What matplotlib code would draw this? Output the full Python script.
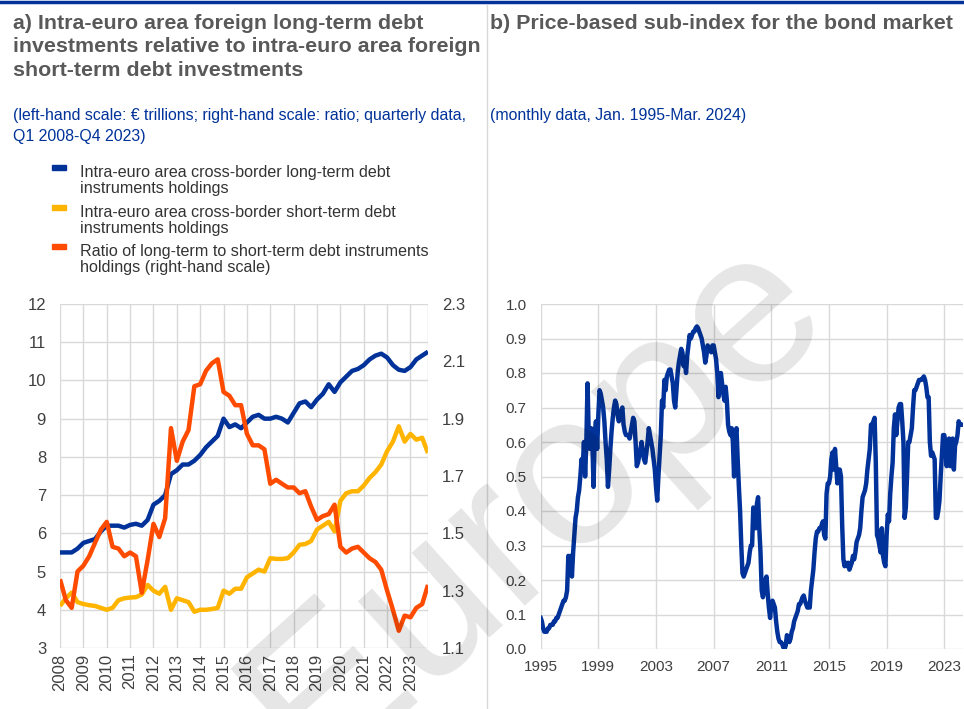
import numpy as np
import matplotlib
matplotlib.use("Agg")
import matplotlib.pyplot as plt
from matplotlib.patches import Rectangle
from matplotlib.lines import Line2D

plt.rcParams['font.family'] = ['Liberation Sans', 'DejaVu Sans']

# ---- panel a: quarterly data, Q1 2008 - Q4 2023 ----
years_a = list(range(2008, 2024))
long_term = [5.5, 5.5, 5.5, 5.6, 5.75, 5.8, 5.85, 6.05,
             6.2, 6.2, 6.2, 6.15, 6.22, 6.25, 6.2, 6.35,
             6.75, 6.85, 7.0, 7.55, 7.65, 7.8, 7.8, 7.9,
             8.05, 8.25, 8.4, 8.55, 9.0, 8.78, 8.85, 8.75,
             8.9, 9.05, 9.1, 9.0, 9.0, 9.05, 9.0, 8.9,
             9.15, 9.4, 9.45, 9.3, 9.5, 9.65, 9.9, 9.7,
             9.95, 10.1, 10.25, 10.3, 10.4, 10.55, 10.65, 10.7,
             10.6, 10.4, 10.28, 10.25, 10.35, 10.55, 10.65, 10.75]
short_term = [4.1, 4.3, 4.45, 4.2, 4.15, 4.12, 4.1, 4.05,
              4.0, 4.05, 4.25, 4.3, 4.32, 4.33, 4.4, 4.65,
              4.5, 4.42, 4.6, 4.0, 4.3, 4.25, 4.2, 3.95,
              4.0, 4.0, 4.02, 4.05, 4.5, 4.42, 4.55, 4.55,
              4.85, 4.95, 5.05, 5.0, 5.35, 5.33, 5.33, 5.35,
              5.5, 5.7, 5.72, 5.8, 6.1, 6.2, 6.3, 6.05,
              6.85, 7.05, 7.1, 7.1, 7.25, 7.45, 7.6, 7.8,
              8.15, 8.4, 8.8, 8.4, 8.6, 8.45, 8.5, 8.1]
ratio = [1.34, 1.267, 1.24, 1.367, 1.387, 1.42, 1.467, 1.513,
         1.54, 1.453, 1.447, 1.42, 1.433, 1.42, 1.293, 1.407,
         1.533, 1.487, 1.553, 1.867, 1.753, 1.82, 1.86, 2.013,
         2.02, 2.067, 2.093, 2.107, 1.993, 1.98, 1.947, 1.947,
         1.847, 1.807, 1.807, 1.793, 1.673, 1.687, 1.673, 1.66,
         1.66, 1.64, 1.647, 1.593, 1.547, 1.56, 1.567, 1.6,
         1.453, 1.433, 1.447, 1.453, 1.433, 1.413, 1.4, 1.373,
         1.3, 1.233, 1.16, 1.213, 1.207, 1.24, 1.253, 1.32]

# ---- panel b: monthly data, Jan 1995 - Mar 2024 ----
bond_index = [
    0.09, 0.08, 0.06, 0.05, 0.05, 0.05, 0.06, 0.06, 0.07, 0.07, 0.07, 0.08,  # 1995
    0.08, 0.09, 0.09, 0.1, 0.11, 0.12, 0.13, 0.14, 0.14, 0.15, 0.17, 0.27,   # 1996
    0.22, 0.27, 0.21, 0.28, 0.33, 0.38, 0.4, 0.44, 0.46, 0.5, 0.55, 0.53,    # 1997
    0.6, 0.5, 0.6, 0.77, 0.62, 0.58, 0.64, 0.6, 0.47, 0.62, 0.66, 0.58,      # 1998
    0.68, 0.75, 0.74, 0.72, 0.7, 0.66, 0.6, 0.55, 0.47, 0.52, 0.58, 0.63,    # 1999
    0.67, 0.7, 0.72, 0.71, 0.68, 0.66, 0.67, 0.69, 0.7, 0.65, 0.63, 0.62,    # 2000
    0.62, 0.62, 0.61, 0.63, 0.65, 0.67, 0.66, 0.6, 0.53, 0.54, 0.56, 0.58,   # 2001
    0.6, 0.57, 0.55, 0.54, 0.57, 0.6, 0.64, 0.62, 0.6, 0.58, 0.55, 0.52,     # 2002
    0.47, 0.43, 0.5, 0.56, 0.62, 0.72, 0.7, 0.78, 0.75, 0.79, 0.8, 0.81,     # 2003
    0.81, 0.79, 0.77, 0.72, 0.7, 0.75, 0.8, 0.83, 0.85, 0.87, 0.86, 0.82,    # 2004
    0.84, 0.8, 0.85, 0.88, 0.91, 0.9, 0.91, 0.92, 0.92, 0.93, 0.935, 0.93,   # 2005
    0.92, 0.91, 0.9, 0.88, 0.86, 0.83, 0.85, 0.88, 0.87, 0.87, 0.86, 0.88,   # 2006
    0.88, 0.86, 0.84, 0.8, 0.73, 0.76, 0.8, 0.77, 0.74, 0.72, 0.76, 0.72,    # 2007
    0.65, 0.63, 0.62, 0.64, 0.6, 0.5, 0.62, 0.64, 0.55, 0.47, 0.4, 0.3,      # 2008
    0.22, 0.21, 0.22, 0.23, 0.24, 0.25, 0.28, 0.3, 0.3, 0.41, 0.4, 0.35,     # 2009
    0.42, 0.44, 0.35, 0.28, 0.17, 0.15, 0.17, 0.2, 0.21, 0.16, 0.12, 0.09,   # 2010
    0.13, 0.14, 0.13, 0.12, 0.08, 0.05, 0.03, 0.02, 0.02, 0.015, 0.005, 0.0, # 2011
    0.01, 0.04, 0.03, 0.02, 0.03, 0.05, 0.06, 0.08, 0.09, 0.1, 0.11, 0.13,   # 2012
    0.13, 0.14, 0.15, 0.155, 0.14, 0.13, 0.12, 0.13, 0.12, 0.17, 0.2, 0.23,  # 2013
    0.28, 0.32, 0.34, 0.34, 0.35, 0.35, 0.36, 0.37, 0.33, 0.32, 0.45, 0.48,  # 2014
    0.48, 0.5, 0.55, 0.57, 0.52, 0.58, 0.53, 0.48, 0.52, 0.52, 0.5, 0.36,    # 2015
    0.26, 0.24, 0.25, 0.24, 0.25, 0.23, 0.24, 0.25, 0.27, 0.26, 0.28, 0.31,  # 2016
    0.32, 0.33, 0.35, 0.4, 0.44, 0.45, 0.46, 0.48, 0.52, 0.55, 0.58, 0.65,   # 2017
    0.65, 0.66, 0.67, 0.54, 0.33, 0.32, 0.3, 0.28, 0.35, 0.27, 0.25, 0.24,   # 2018
    0.33, 0.39, 0.37, 0.45, 0.5, 0.54, 0.64, 0.68, 0.62, 0.66, 0.7, 0.71,    # 2019
    0.71, 0.66, 0.6, 0.38, 0.41, 0.5, 0.6, 0.6, 0.62, 0.64, 0.7, 0.75,       # 2020
    0.75, 0.76, 0.77, 0.78, 0.78, 0.78, 0.785, 0.79, 0.78, 0.76, 0.73, 0.73, # 2021
    0.6, 0.56, 0.57, 0.56, 0.55, 0.38, 0.38, 0.4, 0.43, 0.5, 0.56, 0.62,     # 2022
    0.62, 0.6, 0.53, 0.58, 0.61, 0.53, 0.6, 0.61, 0.52, 0.59, 0.6, 0.62,     # 2023
    0.66, 0.65, 0.65,                                                          # 2024
]
years_b = [1995, 1999, 2003, 2007, 2011, 2015, 2019, 2023]

BLUE = '#003299'
YELLOW = '#ffb400'
ORANGE = '#ff4b00'
GRID = '#d9d9d9'
TXT = '#404040'

W, H = 964, 709
fig = plt.figure(figsize=(W / 100, H / 100), dpi=100)


def fx(px):
    return px / W


def fy(py):
    return 1 - py / H


# ---------------- panel a ----------------
xa = 2008 + np.arange(len(long_term)) / 4
ax = fig.add_axes([fx(60), fy(648), fx(428) - fx(60), fy(304) - fy(648)])
ax.plot(xa, long_term, color=BLUE, lw=3.2, zorder=3, solid_capstyle='butt')
ax.plot(xa, short_term, color=YELLOW, lw=3.2, zorder=2, solid_capstyle='butt')
ax.set_xlim(2008, 2023.75)
ax.set_ylim(3, 12)
ax.set_yticks(range(3, 13))
ax.set_xticks(years_a)
ax.set_xticklabels([str(y) for y in years_a], rotation=90, fontsize=12, color=TXT)
ax.tick_params(axis='y', labelsize=12, labelcolor=TXT, length=0, pad=10)
ax.tick_params(axis='x', length=0, pad=4)
ax.grid(True, color=GRID, lw=1)
ax.axvline(2023.75, color=GRID, lw=1)
ax.set_axisbelow(True)
for s in ax.spines.values():
    s.set_visible(False)

ax2 = ax.twinx()
ax2.plot(xa, ratio, color=ORANGE, lw=3.2, zorder=4, solid_capstyle='butt')
ax2.set_ylim(1.1, 2.3)
ax2.set_yticks([1.1, 1.3, 1.5, 1.7, 1.9, 2.1, 2.3])
ax2.set_yticklabels(['1.1', '1.3', '1.5', '1.7', '1.9', '2.1', '2.3'])
ax2.tick_params(axis='y', labelsize=12, labelcolor=TXT, length=0, pad=10)
for s in ax2.spines.values():
    s.set_visible(False)

# ---------------- panel b ----------------
xb = 1995 + np.arange(len(bond_index)) / 12
bx = fig.add_axes([fx(540.7), fy(649), fx(963) - fx(540.7), fy(304) - fy(649)])
bx.plot(xb, bond_index, color=BLUE, lw=3.2, solid_joinstyle='round')
bx.set_xlim(1995, 2024.3)
bx.set_ylim(0, 1.0)
bx.set_yticks(np.arange(0, 1.01, 0.1))
bx.set_yticklabels([f'{v:.1f}' for v in np.arange(0, 1.01, 0.1)])
bx.set_xticks(years_b)
bx.tick_params(labelsize=11, labelcolor=TXT, length=0)
bx.tick_params(axis='y', pad=10)
bx.tick_params(axis='x', pad=8)
bx.grid(True, color=GRID, lw=1)
bx.set_axisbelow(True)
for s in bx.spines.values():
    s.set_visible(False)

# ---------------- texts ----------------
fig.add_artist(Line2D([0, 1], [fy(2), fy(2)], color=BLUE, lw=2.5))
fig.add_artist(Line2D([fx(487), fx(487)], [fy(5), 0], color=GRID, lw=1))

title_a = ('a) Intra-euro area foreign long-term debt\n'
           'investments relative to intra-euro area foreign\n'
           'short-term debt investments')
fig.text(fx(13), fy(14), title_a, fontsize=15.4, fontweight='bold', color='#595959',
         va='top', ha='left', linespacing=1.3)
fig.text(fx(490), fy(14), 'b) Price-based sub-index for the bond market', fontsize=15.4,
         fontweight='bold', color='#595959', va='top', ha='left')

fig.text(fx(13), fy(108), '(left-hand scale: € trillions; right-hand scale: ratio; quarterly data,\n'
         'Q1 2008-Q4 2023)', fontsize=11.4, color=BLUE, va='top', ha='left', linespacing=1.5)
fig.text(fx(490), fy(108), '(monthly data, Jan. 1995-Mar. 2024)', fontsize=11.4, color=BLUE,
         va='top', ha='left')

legend_items = [
    (BLUE, 'Intra-euro area cross-border long-term debt\ninstruments holdings', 165),
    (YELLOW, 'Intra-euro area cross-border short-term debt\ninstruments holdings', 205),
    (ORANGE, 'Ratio of long-term to short-term debt instruments\nholdings (right-hand scale)', 244),
]
for col, lab, ytop in legend_items:
    fig.add_artist(Rectangle((fx(52), fy(ytop + 5)), fx(66) - fx(52), fy(ytop) - fy(ytop + 5),
                             color=col, transform=fig.transFigure))
    fig.text(fx(80), fy(ytop), lab, fontsize=11.6, color='#333333', va='top', ha='left',
             linespacing=1.12)

fig.text(fx(535), fy(505), 'Europe', fontsize=156, color='black', alpha=0.1, rotation=42,
         ha='center', va='center', zorder=10)

fig.savefig('out.png', dpi=100)
